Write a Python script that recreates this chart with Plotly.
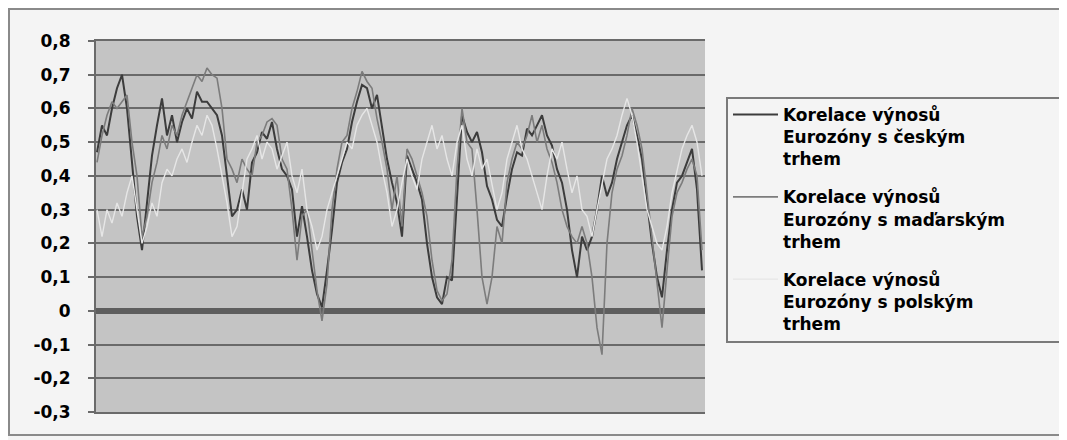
import plotly.graph_objects as go

# ---- data ----
series_names = [
    "Korelace výnosů<br>Eurozóny s českým<br>trhem",
    "Korelace výnosů<br>Eurozóny s maďarským<br>trhem",
    "Korelace výnosů<br>Eurozóny s polským<br>trhem",
]

czech = [0.47, 0.55, 0.52, 0.60, 0.66, 0.70, 0.60, 0.45, 0.28, 0.18,
         0.33, 0.46, 0.55, 0.63, 0.52, 0.58, 0.50, 0.56, 0.60, 0.57,
         0.65, 0.62, 0.62, 0.60, 0.58, 0.52, 0.40, 0.28, 0.30, 0.36,
         0.30, 0.44, 0.47, 0.53, 0.51, 0.56, 0.48, 0.42, 0.40, 0.36,
         0.22, 0.31, 0.22, 0.12, 0.05, 0.01, 0.12, 0.24, 0.38, 0.44,
         0.48, 0.56, 0.62, 0.67, 0.66, 0.60, 0.64, 0.55, 0.45, 0.38,
         0.32, 0.22, 0.46, 0.42, 0.38, 0.33, 0.20, 0.10, 0.04, 0.02,
         0.10, 0.09, 0.35, 0.58, 0.53, 0.50, 0.53, 0.47, 0.37, 0.33,
         0.27, 0.25, 0.34, 0.42, 0.47, 0.46, 0.54, 0.52, 0.55, 0.58,
         0.52, 0.49, 0.42, 0.38, 0.30, 0.18, 0.10, 0.22, 0.18, 0.22,
         0.30, 0.40, 0.34, 0.38, 0.45, 0.50, 0.55, 0.58, 0.52, 0.45,
         0.32, 0.20, 0.10, 0.04, 0.18, 0.30, 0.38, 0.40, 0.44, 0.48,
         0.36, 0.12]

hungary = [0.44, 0.52, 0.58, 0.62, 0.60, 0.62, 0.64, 0.50, 0.40, 0.22,
           0.28, 0.38, 0.44, 0.52, 0.48, 0.55, 0.52, 0.58, 0.62, 0.66,
           0.70, 0.68, 0.72, 0.70, 0.69, 0.60, 0.45, 0.42, 0.38, 0.45,
           0.42, 0.40, 0.50, 0.52, 0.56, 0.57, 0.55, 0.45, 0.42, 0.30,
           0.15, 0.28, 0.30, 0.18, 0.06, -0.03, 0.08, 0.30, 0.42, 0.50,
           0.52, 0.60, 0.65, 0.71, 0.68, 0.66, 0.57, 0.50, 0.42, 0.30,
           0.40, 0.25, 0.48, 0.45, 0.40, 0.35, 0.28, 0.15, 0.06, 0.03,
           0.05, 0.15, 0.42, 0.60, 0.50, 0.48, 0.30, 0.10, 0.02, 0.10,
           0.25, 0.20, 0.38, 0.45, 0.50, 0.48, 0.52, 0.58, 0.50, 0.55,
           0.48, 0.44, 0.38, 0.30, 0.25, 0.22, 0.20, 0.25, 0.20, 0.10,
           -0.05, -0.13, 0.20, 0.35, 0.42, 0.46, 0.52, 0.60, 0.55, 0.48,
           0.35, 0.22, 0.08, -0.05, 0.12, 0.28, 0.35, 0.38, 0.42, 0.45,
           0.40, 0.18]

poland = [0.30, 0.22, 0.30, 0.26, 0.32, 0.28, 0.35, 0.40, 0.30, 0.20,
          0.25, 0.32, 0.28, 0.38, 0.42, 0.40, 0.45, 0.48, 0.44, 0.50,
          0.55, 0.52, 0.58, 0.55, 0.48, 0.40, 0.32, 0.22, 0.25, 0.35,
          0.45, 0.48, 0.52, 0.45, 0.50, 0.48, 0.42, 0.46, 0.50, 0.40,
          0.35, 0.42, 0.30, 0.25, 0.18, 0.22, 0.30, 0.35, 0.40, 0.45,
          0.50, 0.48, 0.55, 0.58, 0.60, 0.55, 0.50, 0.42, 0.35, 0.25,
          0.30, 0.38, 0.45, 0.40, 0.36, 0.45, 0.50, 0.55, 0.48, 0.52,
          0.45, 0.40, 0.50, 0.55, 0.45, 0.40, 0.48, 0.42, 0.45, 0.38,
          0.30, 0.35, 0.45, 0.50, 0.55, 0.48, 0.45, 0.40, 0.35, 0.30,
          0.40, 0.48, 0.45, 0.50, 0.42, 0.35, 0.40, 0.30, 0.28, 0.22,
          0.30, 0.38, 0.45, 0.48, 0.52, 0.58, 0.63, 0.58, 0.50, 0.40,
          0.30, 0.25, 0.20, 0.18, 0.25, 0.35, 0.42, 0.48, 0.52, 0.55,
          0.50, 0.40]

ytick_vals = [0.8, 0.7, 0.6, 0.5, 0.4, 0.3, 0.2, 0.1, 0.0, -0.1, -0.2, -0.3]
ytick_text = ["0,8", "0,7", "0,6", "0,5", "0,4", "0,3", "0,2", "0,1", "0", "-0,1", "-0,2", "-0,3"]

# ---- styling ----
line_colors = ["#3c3c3c", "#7c7c7c", "#e6e6e6"]
line_widths = [2, 1.6, 1.4]
FONT = "DejaVu Sans"

fig = go.Figure()
for k, (name, vals, col, w) in enumerate(zip(series_names, [czech, hungary, poland], line_colors, line_widths)):
    fig.add_trace(go.Scatter(
        x=list(range(len(vals))), y=vals, mode="lines", name=name,
        legendgroup=f"g{k}",
        line=dict(color=col, width=w),
    ))

# page body has an 8px margin: lay out in window pixels, then shift
OFF = 8
W, H = 1067 - OFF, 440 - OFF
L, R, T, B = 96, 705, 41, 412          # plot area in window pixels
pw, ph = R - L, B - T


def px(x):
    return (x - L) / pw


def py(y):
    return (B - y) / ph


fig.update_layout(
    width=W, height=H,
    margin=dict(l=L - OFF, r=W - (R - OFF), t=T - OFF, b=H - (B - OFF), pad=0),
    paper_bgcolor="#f4f4f4",
    plot_bgcolor="#c4c4c4",
    showlegend=True,
    legend=dict(
        x=px(728), y=py(97), xanchor="left", yanchor="top",
        bgcolor="rgba(0,0,0,0)", borderwidth=0, valign="top",
        font=dict(family=FONT, size=17, color="#000000", weight="bold"),
        itemwidth=45, tracegroupgap=13,
    ),
    xaxis=dict(
        range=[-0.2, len(czech) - 0.4], showticklabels=False, showgrid=False,
        zeroline=False, showline=True, linecolor="#6a6a6a", linewidth=2,
        mirror=True, ticks="",
    ),
    yaxis=dict(
        range=[-0.3, 0.8], tickvals=ytick_vals, ticktext=ytick_text,
        showgrid=True, gridcolor="#6a6a6a", gridwidth=2,
        zeroline=True, zerolinecolor="#5e5e5e", zerolinewidth=6,
        showline=True, linecolor="#6a6a6a", linewidth=2,
        ticks="outside", ticklen=6, tickcolor="#6a6a6a", tickwidth=2,
        ticklabelstandoff=14,
        tickfont=dict(family=FONT, size=17, color="#000000", weight="bold"),
    ),
    shapes=[
        dict(type="rect", xref="paper", yref="paper",
             x0=px(9), x1=px(1063), y0=py(435), y1=py(9),
             line=dict(color="#8a8a8a", width=2), fillcolor="rgba(0,0,0,0)",
             layer="below"),
        dict(type="rect", xref="paper", yref="paper",
             x0=px(727), x1=px(1060), y0=py(342), y1=py(98),
             line=dict(color="#7a7a7a", width=2), fillcolor="#f4f4f4",
             layer="below"),
    ],
)

fig.write_html("out.html")
